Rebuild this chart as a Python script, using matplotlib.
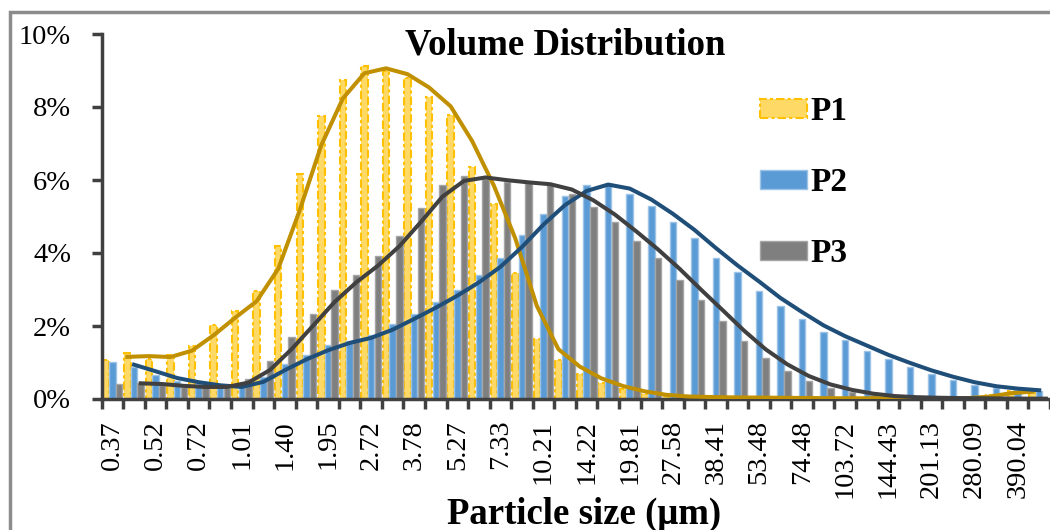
import numpy as np
import matplotlib
matplotlib.use("Agg")
import matplotlib.pyplot as plt
from matplotlib.patches import Patch, Rectangle

# particle size classes (um), every other one is labelled on the axis
sizes = ["0.37", "0.44", "0.52", "0.61", "0.72", "0.85", "1.01", "1.19", "1.40", "1.65",
         "1.95", "2.30", "2.72", "3.21", "3.78", "4.46", "5.27", "6.22", "7.33", "8.65",
         "10.21", "12.05", "14.22", "16.78", "19.81", "23.38", "27.58", "32.55", "38.41", "45.33",
         "53.48", "63.11", "74.48", "87.89", "103.72", "122.40", "144.43", "170.44", "201.13", "237.35",
         "280.09", "330.52", "390.04", "460.27"]

# volume % per size class
p1 = [1.06, 1.25, 1.10, 1.20, 1.45, 2.04, 2.41, 2.95, 4.18, 6.17,
      7.74, 8.73, 9.12, 9.00, 8.80, 8.27, 7.77, 6.36, 5.35, 3.45,
      1.65, 1.08, 0.69, 0.44, 0.27, 0.15, 0.08, 0.06, 0.05, 0.04,
      0.04, 0.03, 0.03, 0.02, 0.02, 0.02, 0.02, 0.02, 0.02, 0.02,
      0.03, 0.10, 0.22, 0.18]
p2 = [1.01, 0.87, 0.65, 0.50, 0.42, 0.33, 0.33, 0.61, 0.97, 1.20,
      1.47, 1.60, 1.75, 2.05, 2.34, 2.66, 3.00, 3.39, 3.85, 4.48,
      5.08, 5.55, 5.85, 5.90, 5.63, 5.30, 4.85, 4.42, 3.85, 3.47,
      2.97, 2.56, 2.20, 1.83, 1.61, 1.32, 1.10, 0.88, 0.69, 0.53,
      0.39, 0.31, 0.26, 0.22]
p3 = [0.42, 0.44, 0.38, 0.34, 0.32, 0.34, 0.56, 1.03, 1.70, 2.32,
      3.00, 3.39, 3.91, 4.46, 5.24, 5.85, 6.10, 6.04, 5.95, 5.92,
      5.85, 5.63, 5.26, 4.85, 4.33, 3.87, 3.27, 2.72, 2.15, 1.59,
      1.13, 0.77, 0.49, 0.31, 0.19, 0.10, 0.06, 0.04, 0.03, 0.02,
      0.02, 0.01, 0.01, 0.01]
names = ["P1", "P2", "P3"]

plt.rcParams['font.family'] = ['Liberation Serif', 'DejaVu Serif']

W, H = 1050, 530
fig = plt.figure(figsize=(W / 100, H / 100), dpi=100)
ax = fig.add_axes([101.7 / W, 1 - 399 / H, 1 - 101.7 / W, (399 - 34) / H])

x = np.arange(len(sizes))
bw = 0.30
offs = [-0.31, 0.0, 0.31]
dash = (0, (4, 1.5, 1.5, 1.5))

ax.bar(x + offs[0], p1, bw, color='#FFD966', edgecolor='#FFC000', linewidth=1.5,
       linestyle=dash, zorder=2)
ax.bar(x + offs[1], p2, bw, color='#5B9BD5', edgecolor='#9DC3E6', linewidth=1, zorder=2)
ax.bar(x + offs[2], p3, bw, color='#7F7F7F', edgecolor='#A5A5A5', linewidth=1, zorder=2)

# moving average trendlines, period 2
line_cols = ['#C09000', '#1F4E79', '#404040']
for vals, o, c in zip([p1, p2, p3], offs, line_cols):
    v = np.array(vals)
    ma = (v[1:] + v[:-1]) / 2
    ax.plot(x[1:] + o, ma, color=c, lw=2.9, zorder=3, solid_joinstyle='round')

ax.set_xlim(-0.5, (W - 101.7) / 21.65 - 0.5)
ax.set_ylim(0, 10)
ax.set_yticks(range(0, 11, 2), [f"{v}%" for v in range(0, 11, 2)])
ax.set_xticks(np.arange(len(sizes) + 1) - 0.5, [])
ax.set_xticks(x[::2], sizes[::2], minor=True)

for s in ['top', 'right']:
    ax.spines[s].set_visible(False)
for s in ['left', 'bottom']:
    ax.spines[s].set_linewidth(2.5)
    ax.spines[s].set_color('#404040')

ax.tick_params(axis='both', which='major', direction='out', length=7, width=2.5, color='#404040')
ax.tick_params(axis='y', labelsize=20.5, pad=15)
ax.tick_params(axis='x', which='minor', length=0, pad=15, labelsize=20.5, labelrotation=90)

handles = [Patch(facecolor='#FFD966', edgecolor='#FFC000', linewidth=1.5, linestyle=dash),
           Patch(facecolor='#5B9BD5', edgecolor='#9DC3E6', linewidth=1),
           Patch(facecolor='#7F7F7F', edgecolor='#A5A5A5', linewidth=1)]
leg = ax.legend(handles, names, loc='upper left', bbox_to_anchor=(760 / W, 1 - 96 / H),
                bbox_transform=fig.transFigure, frameon=False, borderpad=0, borderaxespad=0,
                prop={'weight': 'bold', 'size': 24}, labelspacing=1.2, handlelength=1.4,
                handleheight=0.5, handletextpad=0.1)

fig.text(565 / W, 1 - 45 / H, "Volume Distribution", ha='center', va='center',
         fontsize=26.5, fontweight='bold')
fig.text(584 / W, 1 - 514 / H, "Particle size (μm)", ha='center', va='center',
         fontsize=26.5, fontweight='bold')

# chart area border (cropped on the right and bottom)
fig.add_artist(Rectangle((10 / W, -0.5), 2, 1 - 12 / H + 0.5, transform=fig.transFigure,
                         fill=False, edgecolor='#8C8C8C', linewidth=2.5))

fig.savefig("out.png", dpi=100)
